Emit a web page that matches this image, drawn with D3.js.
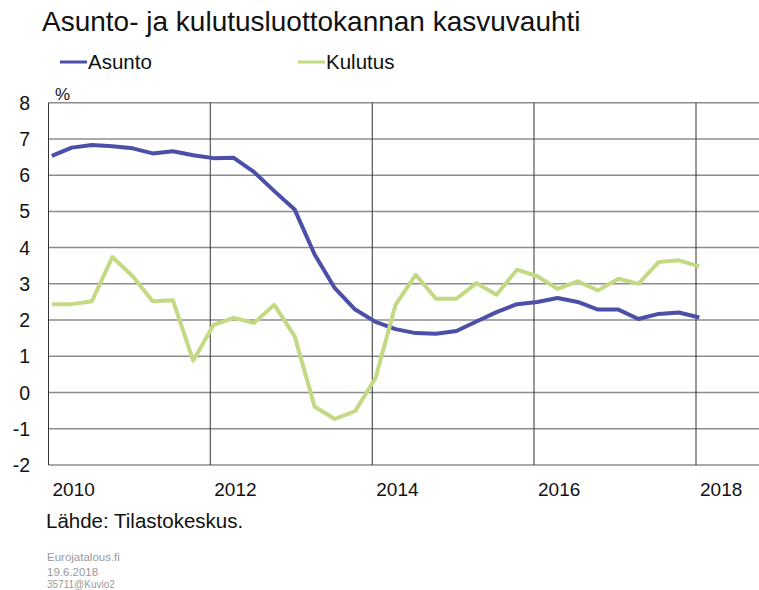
<!DOCTYPE html>
<html>
<head>
<meta charset="utf-8">
<script src="https://cdn.jsdelivr.net/npm/d3@7"></script>
<style>
  body { margin: 0; background: #fff; }
  svg { display: block; font-family: "Liberation Sans", Arial, sans-serif; }
</style>
</head>
<body>
<div id="chart"></div>
<script>
// quarterly observations, month of the observation
const periods = [
  '2010-01', '2010-04', '2010-07', '2010-10',
  '2011-01', '2011-04', '2011-07', '2011-10',
  '2012-01', '2012-04', '2012-07', '2012-10',
  '2013-01', '2013-04', '2013-07', '2013-10',
  '2014-01', '2014-04', '2014-07', '2014-10',
  '2015-01', '2015-04', '2015-07', '2015-10',
  '2016-01', '2016-04', '2016-07', '2016-10',
  '2017-01', '2017-04', '2017-07', '2017-10',
  '2018-01',
]
const asunto = [
  6.53, 6.76, 6.83, 6.80, 6.74, 6.60, 6.66, 6.55,
  6.47, 6.48, 6.09, 5.56, 5.05, 3.81, 2.88, 2.29,
  1.95, 1.75, 1.64, 1.62, 1.70, 1.96, 2.22, 2.44,
  2.50, 2.61, 2.50, 2.29, 2.29, 2.03, 2.17, 2.21,
  2.07,
]
const kulutus = [
  2.44, 2.44, 2.52, 3.74, 3.21, 2.52, 2.55, 0.88,
  1.87, 2.06, 1.92, 2.42, 1.55, -0.39, -0.73, -0.51,
  0.40, 2.42, 3.25, 2.59, 2.59, 3.02, 2.70, 3.39,
  3.21, 2.86, 3.07, 2.82, 3.14, 3.00, 3.60, 3.65,
  3.48,
]
const yTicks = [-2, -1, 0, 1, 2, 3, 4, 5, 6, 7, 8]
const yearTicks = ['2010', '2012', '2014', '2016', '2018']
const seriesNames = ['Asunto', 'Kulutus']
const seriesColors = ['#4b4fa7', '#c4d984']

const width = 759
const height = 590
const parseMonth = d3.timeParse('%Y-%m')
const parseYear = d3.timeParse('%Y')

const svg = d3.select('#chart').append('svg')
  .attr('width', width)
  .attr('height', height)

// scales: 2010..2018 between left axis and last vertical gridline
const x = d3.scaleTime()
  .domain([parseYear('2010'), parseYear('2018')])
  .range([48.5, 696])
const y = d3.scaleLinear()
  .domain([-2, 8])
  .range([465, 102.7])

// title
svg.append('text')
  .attr('x', 42)
  .attr('y', 31)
  .attr('font-size', 28)
  .attr('fill', '#111')
  .text('Asunto- ja kulutusluottokannan kasvuvauhti')

// legend
const legendX = [60, 298]
const legend = svg.append('g').selectAll('g')
  .data(seriesNames)
  .enter().append('g')
  .attr('transform', (d, i) => `translate(${legendX[i]}, 62)`)
legend.append('line')
  .attr('x1', 0).attr('x2', 27)
  .attr('stroke', (d, i) => seriesColors[i])
  .attr('stroke-width', 3)
legend.append('text')
  .attr('x', 28)
  .attr('y', 6.5)
  .attr('font-size', 20.5)
  .attr('fill', '#111')
  .text(d => d)

// horizontal gridlines, running to the right edge
svg.append('g').selectAll('line')
  .data(yTicks)
  .enter().append('line')
  .attr('x1', x.range()[0]).attr('x2', width)
  .attr('y1', d => y(d)).attr('y2', d => y(d))
  .attr('stroke', '#8c8c8c')
  .attr('stroke-width', 1.5)

// vertical gridlines every two years + left axis
svg.append('g').selectAll('line')
  .data(yearTicks)
  .enter().append('line')
  .attr('x1', d => x(parseYear(d))).attr('x2', d => x(parseYear(d)))
  .attr('y1', y(8)).attr('y2', y(-2))
  .attr('stroke', '#333')
  .attr('stroke-width', 1)

// y labels
svg.append('g').selectAll('text')
  .data(yTicks)
  .enter().append('text')
  .attr('x', 30)
  .attr('y', d => y(d) + 7)
  .attr('text-anchor', 'end')
  .attr('font-size', 19.5)
  .attr('fill', '#111')
  .text(d => d)

svg.append('text')
  .attr('x', 55)
  .attr('y', 100)
  .attr('font-size', 17)
  .attr('fill', '#111')
  .text('%')

// year labels, left aligned just after the gridline
svg.append('g').selectAll('text')
  .data(yearTicks)
  .enter().append('text')
  .attr('x', d => x(parseYear(d)) + 4)
  .attr('y', 496)
  .attr('font-size', 19)
  .attr('fill', '#111')
  .text(d => d)

// lines, points placed mid-month
const line = d3.line()
  .x((d, i) => x(d3.timeDay.offset(parseMonth(periods[i]), 15)))
  .y(d => y(d))

svg.append('g').selectAll('path')
  .data([asunto, kulutus])
  .enter().append('path')
  .attr('d', d => line(d))
  .attr('fill', 'none')
  .attr('stroke', (d, i) => seriesColors[i])
  .attr('stroke-width', 4)
  .attr('stroke-linejoin', 'round')

// source + footer
svg.append('text')
  .attr('x', 46)
  .attr('y', 528)
  .attr('font-size', 20.5)
  .attr('fill', '#111')
  .text('Lähde: Tilastokeskus.')

const footer = ['Eurojatalous.fi', '19.6.2018', '35711@Kuvio2']
const footerY = [561, 575.5, 588]
const footerSize = [11.5, 11.5, 10]
svg.append('g').selectAll('text')
  .data(footer)
  .enter().append('text')
  .attr('x', 47)
  .attr('y', (d, i) => footerY[i])
  .attr('font-size', (d, i) => footerSize[i])
  .attr('fill', '#9a9a9a')
  .text(d => d)
</script>
</body>
</html>
